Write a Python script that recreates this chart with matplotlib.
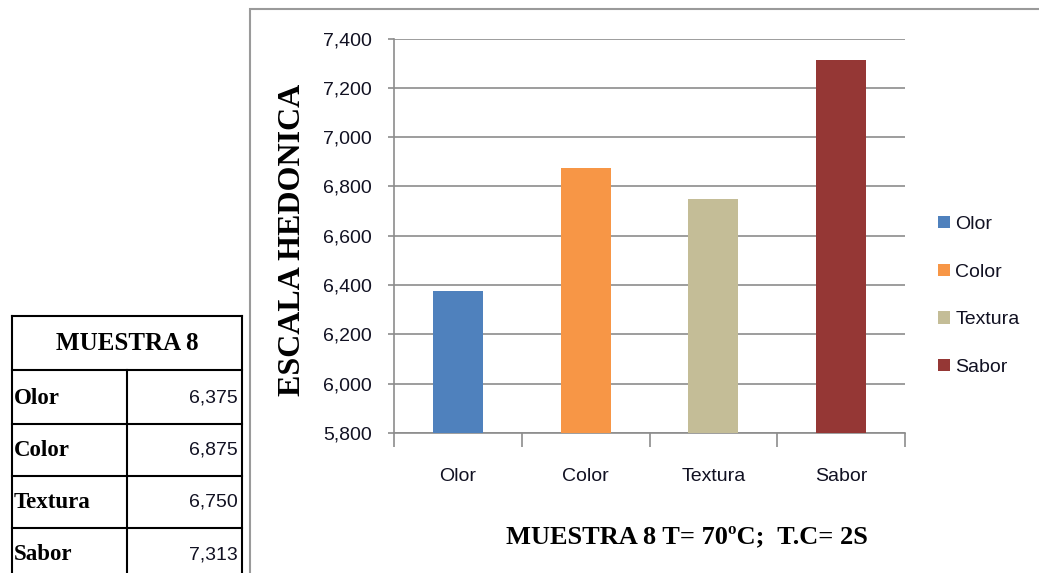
import matplotlib
matplotlib.use("Agg")
import matplotlib.pyplot as plt
from matplotlib.lines import Line2D
from matplotlib.patches import Rectangle
from matplotlib.ticker import FuncFormatter, FixedLocator

categorias = ["Olor", "Color", "Textura", "Sabor"]
valores = [6.375, 6.875, 6.750, 7.313]
colores = ["#4F81BD", "#F79646", "#C4BD97", "#953735"]
titulo_tabla = "MUESTRA 8"
titulo_x = "MUESTRA 8 T= 70ºC;  T.C= 2S"
titulo_y = "ESCALA HEDONICA"

W, H = 1039, 573
fx = lambda px: px / W
fy = lambda py: 1 - py / H

def coma(v, pos=None):
    return f"{v:.3f}".replace(".", ",")

fig = plt.figure(figsize=(W / 100, H / 100), dpi=100)
fig.patch.set_facecolor("white")

# marco del grafico (se sale por la derecha y por abajo)
fig.add_artist(Rectangle((fx(250), fy(600)), fx(820), fy(9) - fy(600),
                         transform=fig.transFigure, fill=False,
                         edgecolor="#9a9a9a", lw=1.5))

ax = fig.add_axes([fx(394), fy(433), fx(905) - fx(394), fy(38.5) - fy(433)])
for i, (c, v) in enumerate(zip(categorias, valores)):
    ax.bar(i, v, width=0.39, color=colores[i], label=c, zorder=3)

ax.set_xlim(-0.5, 3.5)
ax.set_ylim(5.8, 7.4)
ax.set_yticks([5.8 + 0.2 * k for k in range(9)])
ax.yaxis.set_major_formatter(FuncFormatter(coma))
ax.grid(axis="y", color="#8c8c8c", lw=1.2, zorder=0)
ax.set_xticks(range(4))
ax.set_xticklabels(categorias)
ax.xaxis.set_minor_locator(FixedLocator([-0.5, 0.5, 1.5, 2.5, 3.5]))
ax.tick_params(axis="x", which="major", length=0, pad=25)
ax.tick_params(axis="x", which="minor", length=10, color="#8c8c8c", width=1.2)
ax.tick_params(axis="y", length=4, color="#8c8c8c", width=1.2, pad=12)
for lab in ax.get_xticklabels() + ax.get_yticklabels():
    lab.set_fontfamily("Liberation Sans")
    lab.set_fontsize(14)
    lab.set_color("#111122")
for s in ["top", "right"]:
    ax.spines[s].set_visible(False)
for s in ["left", "bottom"]:
    ax.spines[s].set_color("#8c8c8c")
    ax.spines[s].set_linewidth(1.2)

fig.text(fx(293), fy(240), titulo_y, rotation=90, ha="center", va="center",
         family="Liberation Serif", weight="bold", fontsize=23)
fig.text(fx(687), fy(537), titulo_x, ha="center", va="center",
         family="Liberation Serif", weight="bold", fontsize=19)

leg = ax.legend(loc="center left", bbox_to_anchor=(fx(938), fy(296)),
                bbox_transform=fig.transFigure, frameon=False,
                prop={"family": "Liberation Sans", "size": 14},
                handlelength=0.6, handleheight=0.6, handletextpad=0.3,
                labelspacing=1.58, borderpad=0, borderaxespad=0)
for t in leg.get_texts():
    t.set_color("#111122")

# tabla de valores
filas_y = [316, 370, 424, 476, 528]
for yy in filas_y:
    fig.add_artist(Line2D([fx(12), fx(242)], [fy(yy), fy(yy)],
                          transform=fig.transFigure, color="black", lw=1.5))
for xx in [12, 242]:
    fig.add_artist(Line2D([fx(xx), fx(xx)], [fy(316), fy(580)],
                          transform=fig.transFigure, color="black", lw=1.5))
fig.add_artist(Line2D([fx(127), fx(127)], [fy(370), fy(580)],
                      transform=fig.transFigure, color="black", lw=1.5))
fig.text(fx(127), fy(343), titulo_tabla, ha="center", va="center",
         family="Liberation Serif", weight="bold", fontsize=18)
centros = [398, 450, 502, 555]
for c, v, yy in zip(categorias, valores, centros):
    fig.text(fx(14), fy(yy), c, ha="left", va="center",
             family="Liberation Serif", weight="bold", fontsize=16.5)
    fig.text(fx(238), fy(yy), coma(v), ha="right", va="center",
             family="Liberation Sans", fontsize=14, color="#111122")

plt.savefig("out.png", dpi=100)
